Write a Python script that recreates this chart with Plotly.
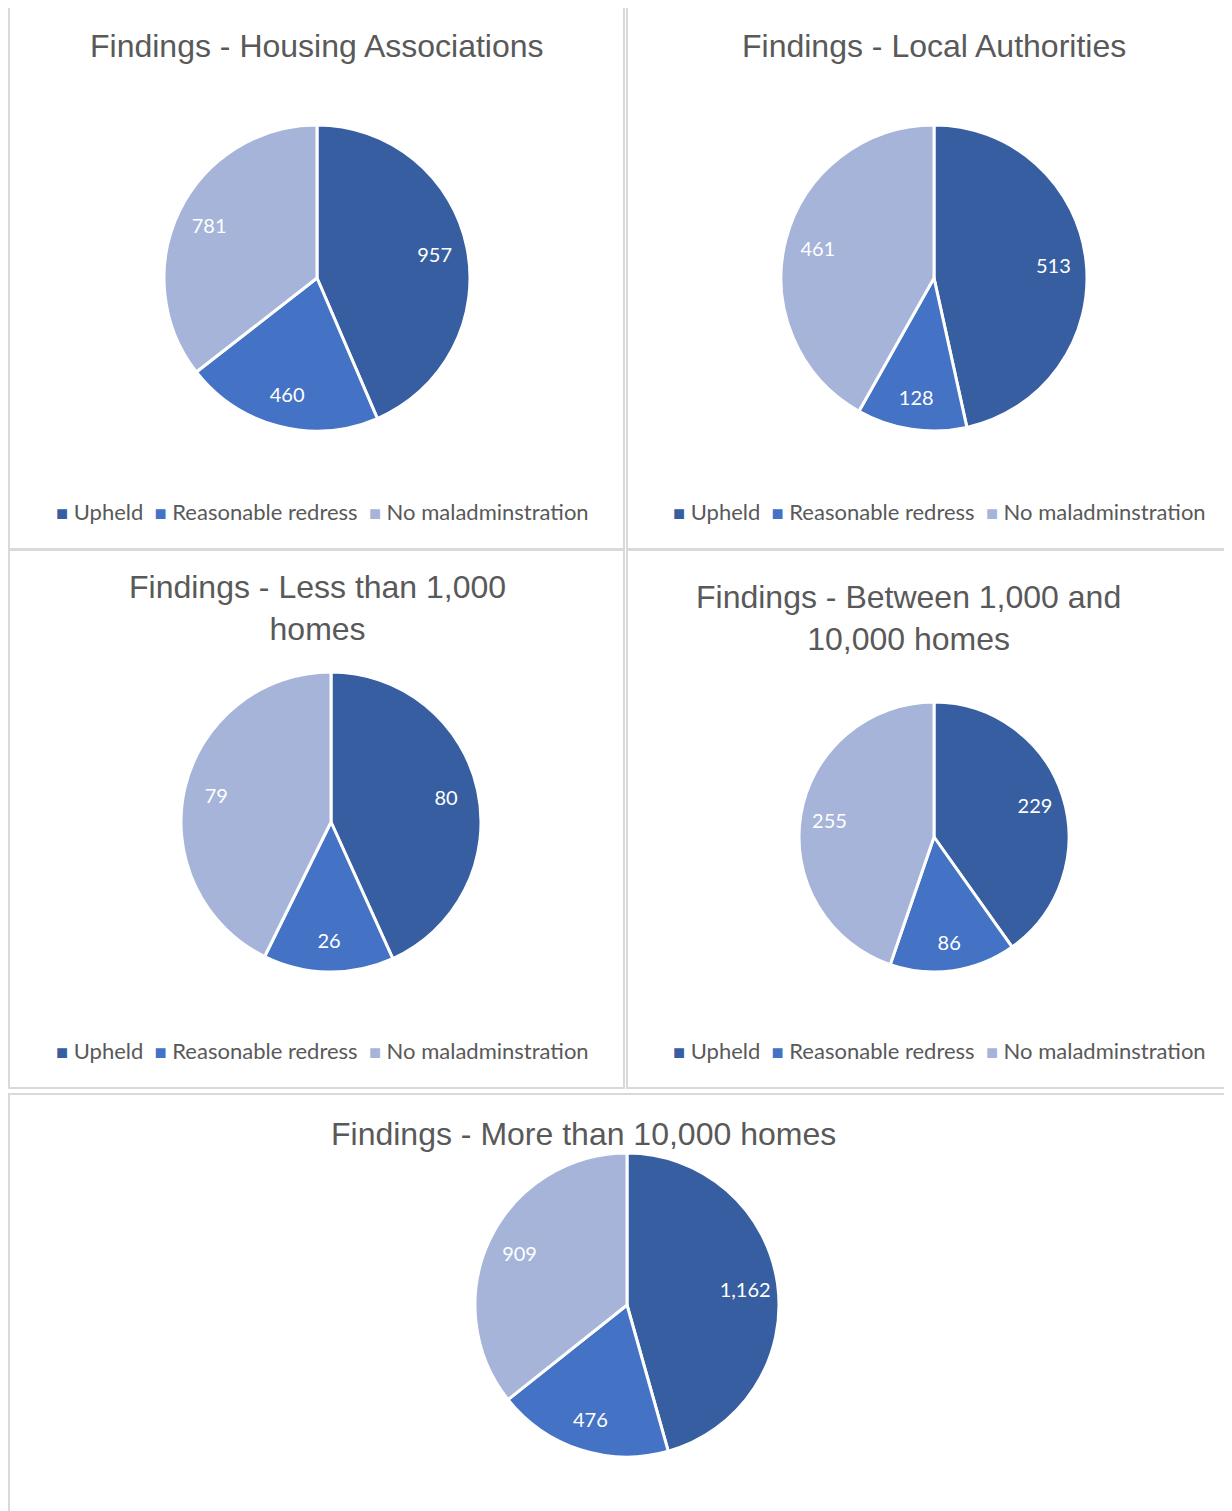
import plotly.graph_objects as go

# categories and colours
categories = ["Upheld", "Reasonable redress", "No maladminstration"]
colors = ["#365ea0", "#4472c4", "#a6b4d9"]

# chart titles
titles = [
    "Findings - Housing Associations",
    "Findings - Local Authorities",
    "Findings - Less than 1,000<br>homes",
    "Findings - Between 1,000 and<br>10,000 homes",
    "Findings - More than 10,000 homes",
]

# values per chart
housing_associations = [957, 460, 781]
local_authorities = [513, 128, 461]
less_than_1000 = [80, 26, 79]
between_1000_10000 = [229, 86, 255]
more_than_10000 = [1162, 476, 909]

series = [housing_associations, local_authorities, less_than_1000,
          between_1000_10000, more_than_10000]

W, H = 1232, 1511
OFF = 8  # page body margin

# layout in pixels (pie centre x, y, radius), title pos, legend pos, panel box
pies = [(317, 278, 153), (934, 278, 153), (331, 822, 150), (934, 837, 135), (627, 1305, 152)]
title_pos = [(317, 46), (934, 46), (317, 608), (908, 618), (583, 1134)]
legend_pos = [(322, 511), (939, 511), (322, 1050), (939, 1050), None]
panels = [(9, 6, 624, 549), (627, 6, 1260, 549), (9, 550, 624, 1088),
          (627, 550, 1260, 1088), (9, 1094, 1260, 1540)]


def px_x(x):
    return (x - OFF) / W


def px_y(y):
    return 1 - (y - OFF) / H


fig = go.Figure()

for vals, (cx, cy, r) in zip(series, pies):
    dom = dict(x=[px_x(cx - r), px_x(cx + r)], y=[px_y(cy + r), px_y(cy - r)])
    # slices
    fig.add_trace(go.Pie(
        labels=categories, values=vals,
        marker=dict(colors=colors, line=dict(color="white", width=3)),
        sort=False, direction="clockwise", rotation=0,
        textinfo="none", domain=dom,
        showlegend=False, hoverinfo="label+value",
    ))
    # data labels, placed out towards the rim like Excel's
    fig.add_trace(go.Pie(
        labels=categories, values=vals, hole=0.57,
        marker=dict(colors=["rgba(0,0,0,0)"] * 3, line=dict(width=0)),
        sort=False, direction="clockwise", rotation=0,
        texttemplate="%{value:,}", textposition="inside",
        insidetextorientation="horizontal",
        textfont=dict(family="Lato", size=20, color="white"),
        domain=dom, showlegend=False, hoverinfo="skip",
    ))

shapes = []
for x0, y0, x1, y1 in panels:
    shapes.append(dict(type="rect", xref="paper", yref="paper",
                       x0=px_x(x0), x1=px_x(x1), y0=px_y(y1), y1=px_y(y0),
                       line=dict(color="#d9d9d9", width=2), layer="below"))

annotations = []
for t, (tx, ty) in zip(titles, title_pos):
    annotations.append(dict(text=t, x=px_x(tx), y=px_y(ty), xref="paper", yref="paper",
                            showarrow=False, xanchor="center", yanchor="middle",
                            font=dict(family="Liberation Sans", size=32, color="#595959")))

legend_text = "  ".join(
    f"<span style='color:{c};font-size:20px'>■</span> {cat}" for cat, c in zip(categories, colors)
)
for pos in legend_pos:
    if pos is None:
        continue
    lx, ly = pos
    annotations.append(dict(text=legend_text, x=px_x(lx), y=px_y(ly), xref="paper", yref="paper",
                            showarrow=False, xanchor="center", yanchor="middle",
                            font=dict(family="Lato", size=22, color="#595959")))

fig.update_layout(
    width=W, height=H,
    margin=dict(l=0, r=0, t=0, b=0),
    paper_bgcolor="white", plot_bgcolor="white",
    shapes=shapes, annotations=annotations,
    uniformtext=dict(minsize=20, mode="show"),
)

fig.write_html("out.html")
